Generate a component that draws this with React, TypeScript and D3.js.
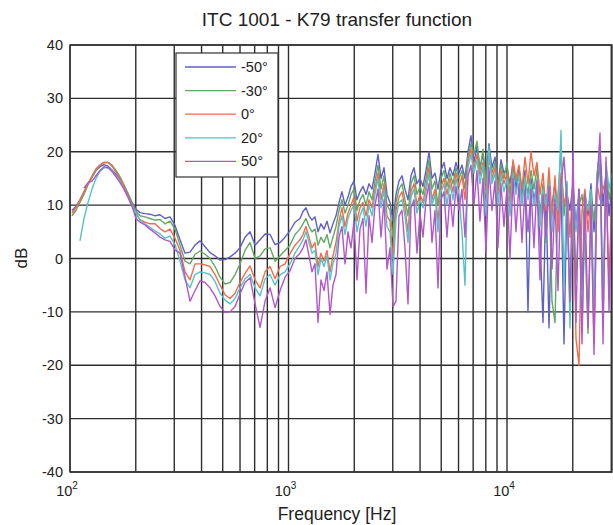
import React from "react";
import * as d3 from "d3";

// Frequencies (Hz) shared by all series
const FREQ = [
  102, 106.5, 111.1, 115.9, 120.9, 126.1, 131.5, 137.2, 143.1, 149.3,
  155.7, 162.4, 169.4, 176.7, 184.3, 192.2, 200.5, 209.1, 220.4, 232.3,
  244.9, 258.2, 272.2, 286.9, 302.5, 318.8, 336.1, 354.3, 373.4, 393.6,
  415, 437.4, 461.1, 486.1, 512.4, 540.1, 569.4, 600.2, 632.7, 666.9,
  703, 741.1, 781.2, 823.5, 868.1, 915.1, 964.2, 1016, 1071, 1129,
  1165, 1202, 1241, 1281, 1322, 1365, 1408, 1454, 1500, 1549,
  1598, 1650, 1703, 1757, 1814, 1872, 1932, 1994, 2058, 2124,
  2193, 2263, 2336, 2411, 2488, 2568, 2651, 2736, 2824, 2914,
  3008, 3105, 3204, 3307, 3413, 3523, 3636, 3753, 3873, 3998,
  4126, 4259, 4395, 4536, 4682, 4833, 4988, 5148, 5313, 5484,
  5660, 5842, 6029, 6223, 6423, 6629, 6842, 7062, 7289, 7523,
  7764, 8014, 8271, 8537, 8811, 9094, 9386, 9688, 9999, 10320,
  10652, 10994, 11347, 11712, 12088, 12477, 12877, 13291, 13718, 14159,
  14614, 15083, 15568, 16068, 16584, 17117, 17667, 18235, 18821, 19425,
  20050, 20694, 21359, 22045, 22753, 23484, 24239, 25018, 25821, 26651,
  27507, 28391, 29303, 30245,
];

const NEG50 = [
  9, 9.8, 11, 12.5, 14, 15.3, 16.5, 17.2, 17.6, 17.3,
  16.6, 15.8, 14.8, 13.5, 12, 10.5, 9.2, 8.6, 8.4, 8.3,
  8.0, 8.2, 7.5, 7.8, 6.2, 3.5, 1.0, 1.2, 2.5, 3.3,
  2.2, 1.1, 0.5, -0.3, -0.2, 0.3, 1.0, 2.0, 4.0, 5.0,
  2.5, 3.5, 4.6, 4.5, 2.6, 3.0, 4.0, 5.2, 6.8, 7.5,
  8.8, 9.5, 8.0, 7.2, 7.8, 5.0, 6.5, 5.5, 7.0, 4.8,
  6.5, 8.0, 10.5, 12.5, 10.0, 11.5, 13.5, 14.5, 11.0, 12.5,
  13.5, 12.0, 14.0, 13.0, 16.0, 19.5, 15.0, 17.0, 12.0, 10.5,
  7.0, 12.0, 14.5, 15.5, 13.0, 11.0, 15.5, 17.0, 14.0, 15.0,
  13.5, 16.5, 20.0, 15.0, 16.0, 13.0, 16.5, 18.0, 15.0, 17.0,
  15.5, 18.0, 16.0, 17.5, 15.0, 20.0, 23.0, 18.0, 21.0, 17.0,
  19.5, 15.0, 21.5, 17.0, 19.0, 14.0, 18.5, 16.0, 17.0, 14.0,
  18.0, 13.0, 17.0, 12.0, 16.5, -10.0, 15.0, 11.0, 14.0, 4.0,
  -12.0, 12.0, -13.0, 10.0, 14.0, 8.0, 15.0, -16.0, 12.0, 9.0,
  14.0, 6.0, 13.0, -6.0, 12.0, 8.0, 14.0, 5.0, 15.0, 21.0,
  10.0, 16.0, 8.0, 14.0,
];

const NEG30 = [
  8, 9, 10.5, 12, 13.8, 15.2, 16.5, 17.5, 18, 18,
  17.5, 16.5, 15.3, 13.8, 12.2, 10.5, 8.8, 8.0, 7.8, 7.5,
  7.2, 7.3, 6.5, 7.0, 5.5, 2.5, -0.5, -1.0, 0.8, 1.4,
  0.8, 0, -1.5, -3.5, -4.8, -4.5, -3.0, -1.0, 1.5, 3.0,
  0, 0.5, 1.8, 2.0, -0.5, 0.5, 1.5, 2.5, 4.5, 5.5,
  6.5, 7.5, 6.0, 5.0, 5.5, 2.5, 4.0, 3.0, 4.5, 2.0,
  4.0, 6.0, 9.0, 11.0, 8.5, 10.0, 12.0, 13.0, 9.0, 11.0,
  12.0, 10.0, 12.5, 11.0, 14.5, 17.5, 13.0, 15.5, 10.0, 9.0,
  4.0, 10.5, 13.0, 14.0, 11.0, 8.0, 14.0, 15.5, 12.0, 13.5,
  12.0, 15.0, 18.5, 13.0, 14.5, 10.0, 15.0, 16.5, 13.5, 16.0,
  14.0, 17.0, 15.0, 16.5, 13.0, 19.0, 21.5, 19.5, 22.0, 16.5,
  20.5, 14.0, 20.0, 16.0, 18.0, 13.0, 17.5, 15.0, 18.0, 12.0,
  17.0, 14.5, 16.0, 11.0, 15.5, 12.0, 16.5, 13.0, 17.0, 8.0,
  14.0, 3.0, 15.0, -8.0, -12.0, 12.0, 20.0, 8.0, 14.0, -10.0,
  12.0, -4.0, 10.0, 12.0, 4.0, -14.0, 11.0, 7.0, 13.0, 18.0,
  -12.0, 17.0, 11.0, 15.0,
];

const ZERO = [
  8.5, 9.5, 11, 12.5, 14, 15.5, 16.8, 17.5, 18, 18,
  17.3, 16.2, 15, 13.5, 11.8, 10, 8.5, 7.3, 6.8, 6.5,
  6.5, 5.6, 5.0, 5.5, 3.8, 1.5, -2.5, -4.0, -1.0, -1.0,
  -1.2, -1.5, -3.0, -5.0, -6.8, -7.5, -6.5, -4.5, -2.8, -1.4,
  -4.0, -5.5, -2.5, -1.5, -3.8, -1.5, -1.0, 0.9, 2.5, 3.5,
  4.5, 6.0, 4.0, 2.0, 3.0, -1.5, 1.0, -0.5, 1.5, -2.5,
  0.5, 3.0, 7.0, 9.5, 6.0, 8.5, 10.0, 11.5, 7.0, 9.5,
  10.5, 8.0, 11.0, 9.5, 13.0, 16.0, 11.0, 14.0, 8.0, 7.0,
  0.0, 9.0, 11.5, 12.5, 9.5, 5.0, 12.5, 14.0, 10.0, 12.0,
  10.5, 13.5, 17.0, 11.0, 13.0, 7.0, 13.5, 15.0, 12.0, 15.0,
  12.5, 16.0, 13.5, 15.5, 11.0, 18.0, 20.5, 17.0, 19.5, 15.5,
  18.0, 12.0, 19.0, 15.0, 17.0, 12.0, 16.5, 14.0, 16.0, 10.0,
  18.5, 15.0, 17.5, 13.0, 19.0, 14.0, 20.0, 15.5, 18.0, 12.0,
  16.0, 9.0, 17.0, 8.0, 15.5, 5.0, 16.0, 10.0, 13.0, 4.0,
  15.0, -15.0, -20.0, 9.0, 13.0, 5.0, 12.0, -16.0, 14.0, 11.0,
  13.0, 15.0, -5.0, 13.0,
];

const POS20 = [
  null, null, 3.3, 7.5, 10.5, 13, 15, 16.3, 17, 17,
  16.5, 15.5, 14.5, 13, 11.5, 9.8, 8.5, 7.2, 6.5, 5.8,
  5.2, 4.6, 3.8, 4.2, 2.6, -0.5, -4.0, -5.5, -3.0, -2.5,
  -2.7, -3.0, -4.3, -6.5, -7.8, -8.5, -7.5, -5.5, -3.8, -3.0,
  -5.5, -7.0, -3.8, -3.0, -5.0, -3.0, -2.5, -1.0, 1.0, 2.5,
  3.5, 5.0, 3.0, 1.0, 1.5, -3.0, 0.0, -1.5, 0.5, -4.0,
  -1.0, 1.0, 6.0, 8.0, 4.5, 7.5, 9.0, 10.0, 5.0, 8.0,
  9.5, 6.0, 10.0, 8.0, 12.0, 15.0, 9.5, 13.0, 6.0, 5.0,
  -3.0, 7.5, 10.5, 11.0, 8.0, 3.0, 11.5, 13.0, 8.5, 11.0,
  9.5, 12.5, 16.0, 10.0, 12.0, 5.0, 12.5, 14.0, 10.0, 14.0,
  11.0, 15.0, 12.0, 5.0, -5.0, 17.0, 19.5, 16.0, 18.5, 14.0,
  17.5, 8.0, 21.0, 14.0, 16.0, 10.0, 15.5, 12.5, 15.0, 8.0,
  16.0, 12.0, 15.5, 10.0, 15.0, 11.0, 14.0, 10.0, 15.0, 6.0,
  13.0, 10.0, 14.0, 5.0, 12.0, 9.0, 24.0, -5.0, 14.5, -13.0,
  13.0, 5.0, 12.0, -14.0, 11.0, 9.0, 13.0, -10.0, 16.0, 20.0,
  -8.0, 18.0, 13.0, 16.0,
];

const POS50 = [
  null, null, null, 13.2, 14.2, 14.5, 15.5, 16.5, 17.2, 17,
  16.3, 15.3, 14.2, 13, 11.5, 9.8, 7.5, 6.8, 6.3, 5.5,
  4.8, 4.0, 3.5, 3.2, 1.6, 1.0, -3.5, -8.0, -6.0, -4.2,
  -4.5, -5.5, -7.0, -9.0, -10.1, -10.0, -9.0, -6.6, -4.5, -3.6,
  -8.5, -12.9, -8.0, -5.5, -9.2, -6.0, -3.5, -2.3, 0.0, 1.0,
  2.0, 3.5, 0.5, -2.5, -1.0, -12.0, -4.0, -6.0, -2.5, -10.5,
  -5.0, -3.0, 4.0, 6.0, -1.0, 5.0, 2.0, 7.0, -4.0, 5.5,
  7.5, -6.5, 8.0, 3.0, 10.0, 13.0, 4.0, 11.0, -2.0, 2.0,
  -9.0, -8.0, 8.0, 9.0, 2.0, -8.5, 9.5, 11.0, 1.0, 8.5,
  4.0, 11.0, 14.0, 3.0, 9.0, -5.5, 11.0, 12.5, 4.0, 12.0,
  6.0, 13.5, 9.0, 13.0, 4.0, 15.5, 17.5, 10.0, 16.5, 7.0,
  15.0, 1.0, 17.0, 9.0, 14.5, 2.0, 14.0, 6.0, 13.5, 0.0,
  15.0, 5.0, 14.0, 3.0, 13.0, 5.0, 13.0, 2.0, 14.5, -4.0,
  12.0, 4.0, 13.5, -2.0, 11.0, -6.0, 14.0, 19.0, 10.0, -8.0,
  20.0, -12.0, 13.0, -16.0, 12.0, -13.0, 10.0, -18.0, 14.0, 23.5,
  -16.0, 19.0, -10.0, 14.0,
];

const SERIES_NAMES = ["-50°", "-30°", "0°", "20°", "50°"];
const SERIES_VALUES = [NEG50, NEG30, ZERO, POS20, POS50];
const SERIES_COLORS = ["#5f5fc6", "#62a862", "#f26a4c", "#55c2c6", "#b256cc"];

const Y_TICKS = [-40, -30, -20, -10, 0, 10, 20, 30, 40];
const X_DECADES = [100, 1000, 10000];
const X_EXPONENTS = ["2", "3", "4"];

const TITLE = "ITC 1001 - K79 transfer function";
const X_LABEL = "Frequency [Hz]";
const Y_LABEL = "dB";

export default function App() {
  const W = 613;
  const H = 525;
  const left = 70;
  const right = 612;
  const top = 45;
  const bottom = 472;

  const x = d3.scaleLog().domain([100, 30240]).range([left, right]);
  const y = d3.scaleLinear().domain([-40, 40]).range([bottom, top]);

  const minor: number[] = [];
  X_DECADES.forEach((d) => {
    for (let m = 1; m <= 9; m++) {
      const f = d * m;
      if (f <= 30240) minor.push(f);
    }
  });

  const line = d3
    .line<number | null>()
    .defined((d) => d !== null && d !== undefined)
    .x((_, i) => x(FREQ[i]))
    .y((d) => y(d as number));

  const font = "'Liberation Sans', Arial, Helvetica, sans-serif";
  const grid = "#2e2e2e";

  return (
    <svg
      width={W}
      height={H}
      style={{ position: "absolute", left: 0, top: 0, background: "#fff" }}
      fontFamily={font}
    >
      <defs>
        <clipPath id="plotclip">
          <rect x={left} y={top} width={right - left} height={bottom - top} />
        </clipPath>
      </defs>
      <rect x={0} y={0} width={W} height={H} fill="#fff" />
      {/* grid */}
      {minor.map((f) => (
        <line key={"v" + f} x1={x(f)} x2={x(f)} y1={top} y2={bottom} stroke={grid} strokeWidth={1.4} />
      ))}
      {Y_TICKS.map((t) => (
        <line key={"h" + t} x1={left} x2={right} y1={y(t)} y2={y(t)} stroke={grid} strokeWidth={1.4} />
      ))}
      {/* data */}
      <g clipPath="url(#plotclip)">
        {SERIES_VALUES.map((vals, i) => (
          <path
            key={i}
            d={line(vals as (number | null)[]) || ""}
            fill="none"
            stroke={SERIES_COLORS[i]}
            strokeWidth={1.4}
            strokeLinejoin="round"
          />
        ))}
      </g>
      {/* frame */}
      <rect x={left} y={top} width={right - left} height={bottom - top} fill="none" stroke="#333" strokeWidth={1.4} />
      {/* y tick labels */}
      {Y_TICKS.map((t) => (
        <text key={"yt" + t} x={63} y={y(t)} dy="0.35em" textAnchor="end" fontSize={14.5} fill="#222">
          {t}
        </text>
      ))}
      {/* x tick labels */}
      {X_DECADES.map((d, i) => (
        <text key={"xt" + d} x={x(d) - 3} y={496} textAnchor="middle" fontSize={14.5} fill="#222">
          10
          <tspan dy={-7} fontSize={10}>
            {X_EXPONENTS[i]}
          </tspan>
        </text>
      ))}
      {/* title and labels */}
      <text x={337} y={26} textAnchor="middle" fontSize={19} fill="#222">
        {TITLE}
      </text>
      <text x={337} y={520} textAnchor="middle" fontSize={17.5} fill="#222">
        {X_LABEL}
      </text>
      <text transform={`translate(27,258) rotate(-90)`} textAnchor="middle" fontSize={17} fill="#222">
        {Y_LABEL}
      </text>
      {/* legend */}
      <g>
        <rect x={176} y={53} width={102} height={124} fill="#fff" stroke="#333" strokeWidth={1.2} />
        {SERIES_NAMES.map((n, i) => {
          const ly = 67 + i * 23.6;
          return (
            <g key={n}>
              <line x1={185} x2={236} y1={ly} y2={ly} stroke={SERIES_COLORS[i]} strokeWidth={1.3} />
              <text x={241} y={ly} dy="0.35em" fontSize={14.5} fill="#222">
                {n}
              </text>
            </g>
          );
        })}
      </g>
    </svg>
  );
}
